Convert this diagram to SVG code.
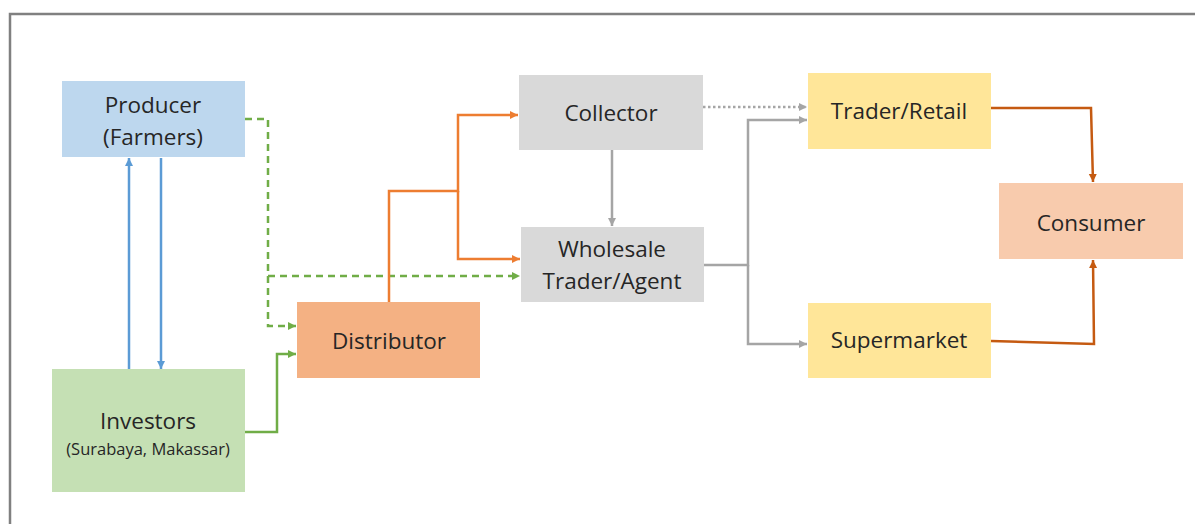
<svg xmlns="http://www.w3.org/2000/svg" width="1195" height="524" viewBox="0 0 1195 524">
<defs>
<style>
.t{font-family:"Open Sans","Noto Sans",sans-serif;font-size:22.5px;fill:#262626;text-anchor:middle}
.s{font-size:16.5px}
.c{fill:none;stroke-width:2.5}
.blue{stroke:#5B9BD5}
.green{stroke:#70AD47}
.orange{stroke:#ED7D31}
.gray{stroke:#A5A5A5}
.dor{stroke:#C55A11}
</style>
<marker id="ab" markerUnits="userSpaceOnUse" markerWidth="10" markerHeight="10" refX="8" refY="4" orient="auto"><path d="M0,0 L8,4 L0,8 z" fill="#5B9BD5"/></marker>
<marker id="ag" markerUnits="userSpaceOnUse" markerWidth="10" markerHeight="10" refX="8" refY="4" orient="auto"><path d="M0,0 L8,4 L0,8 z" fill="#70AD47"/></marker>
<marker id="ao" markerUnits="userSpaceOnUse" markerWidth="10" markerHeight="10" refX="8" refY="4" orient="auto"><path d="M0,0 L8,4 L0,8 z" fill="#ED7D31"/></marker>
<marker id="ay" markerUnits="userSpaceOnUse" markerWidth="10" markerHeight="10" refX="8" refY="4" orient="auto"><path d="M0,0 L8,4 L0,8 z" fill="#A5A5A5"/></marker>
<marker id="ad" markerUnits="userSpaceOnUse" markerWidth="10" markerHeight="10" refX="8" refY="4" orient="auto"><path d="M0,0 L8,4 L0,8 z" fill="#C55A11"/></marker>
</defs>
<rect x="0" y="0" width="1195" height="524" fill="#ffffff"/>
<rect x="10" y="14" width="1200" height="530" fill="none" stroke="#808080" stroke-width="2.5"/>

<g id="connectors">
<path class="c blue" d="M129,369 V158" marker-end="url(#ab)"/>
<path class="c blue" d="M161,158 V369" marker-end="url(#ab)"/>
<path class="c green" stroke-dasharray="7,5" d="M245,119 H268 V326 H296" marker-end="url(#ag)"/>
<path class="c green" stroke-dasharray="7,5" d="M268,276 H520" marker-end="url(#ag)"/>
<path class="c green" d="M245,432 H277 V354 H296" marker-end="url(#ag)"/>
<path class="c orange" d="M389,302 V191 H458 V115 H518" marker-end="url(#ao)"/>
<path class="c orange" d="M458,191 V259 H520" marker-end="url(#ao)"/>
<path class="c gray" d="M612,150 V226" marker-end="url(#ay)"/>
<path class="c gray" stroke-dasharray="2.5,2.5" d="M703,107 H807" marker-end="url(#ay)"/>
<path class="c gray" d="M704,265 H748 V120 H807" marker-end="url(#ay)"/>
<path class="c gray" d="M748,265 V344 H807" marker-end="url(#ay)"/>
<path class="c dor" d="M991,108 H1091 L1093,182" marker-end="url(#ad)"/>
<path class="c dor" d="M991,341 L1094,344 L1093,260" marker-end="url(#ad)"/>
</g>

<g id="producer"><rect x="62" y="81" width="183" height="76" fill="#BDD7EE"/><text class="t" x="153" y="113">Producer</text><text class="t" x="153" y="145">(Farmers)</text></g>
<g id="investors"><rect x="52" y="369" width="193" height="123" fill="#C5E0B4"/><text class="t" x="148" y="429">Investors</text><text class="t s" x="148" y="455">(Surabaya, Makassar)</text></g>
<g id="distributor"><rect x="297" y="302" width="183" height="76" fill="#F4B183"/><text class="t" x="389" y="349">Distributor</text></g>
<g id="collector"><rect x="519" y="75" width="184" height="75" fill="#D9D9D9"/><text class="t" x="611" y="121">Collector</text></g>
<g id="wholesale"><rect x="521" y="227" width="183" height="75" fill="#D9D9D9"/><text class="t" x="612" y="257">Wholesale</text><text class="t" x="612" y="289">Trader/Agent</text></g>
<g id="trader"><rect x="808" y="73" width="183" height="76" fill="#FFE699"/><text class="t" x="899" y="119">Trader/Retail</text></g>
<g id="supermarket"><rect x="808" y="303" width="183" height="75" fill="#FFE699"/><text class="t" x="899" y="348">Supermarket</text></g>
<g id="consumer"><rect x="999" y="183" width="184" height="76" fill="#F8CBAD"/><text class="t" x="1091" y="231">Consumer</text></g>
</svg>
